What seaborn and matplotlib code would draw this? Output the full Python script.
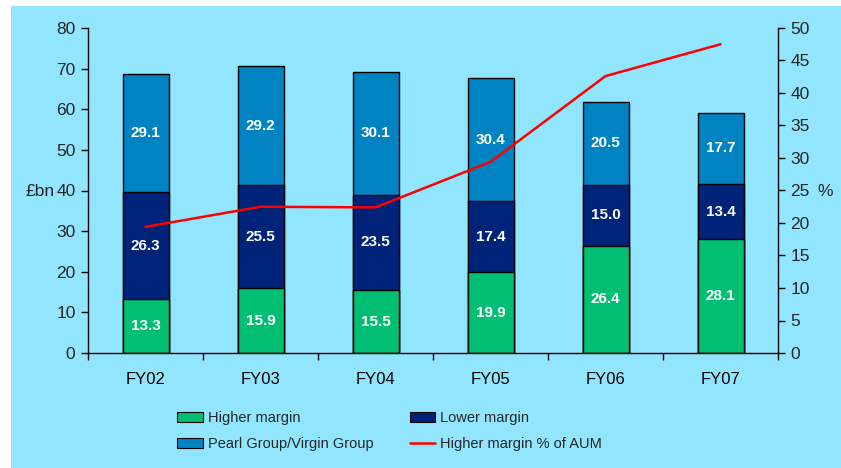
import numpy as np
import pandas as pd
import matplotlib
matplotlib.use("Agg")
import matplotlib.pyplot as plt
import matplotlib.patches as mpatches
import matplotlib.lines as mlines
import seaborn as sns

categories = ["FY02", "FY03", "FY04", "FY05", "FY06", "FY07"]
higher_margin = [13.3, 15.9, 15.5, 19.9, 26.4, 28.1]
lower_margin = [26.3, 25.5, 23.5, 17.4, 15.0, 13.4]
pearl_virgin = [29.1, 29.2, 30.1, 30.4, 20.5, 17.7]
higher_pct = [19.4, 22.5, 22.4, 29.4, 42.6, 47.5]

BG = "#91E5FF"
GREEN = "#00BF72"
NAVY = "#00237A"
BLUE = "#0083C2"
RED = "#FF0000"

sns.set_theme(style="white")
plt.rcParams["font.family"] = ["Liberation Sans", "DejaVu Sans"]

fig = plt.figure(figsize=(8.41, 4.68), dpi=100, facecolor="white")
fig.patches.append(mpatches.Rectangle((11/841, 0), 1, 1 - 6/468, transform=fig.transFigure,
                                      facecolor=BG, edgecolor="none", zorder=-10))
ax = fig.add_axes([88/841, 1 - 353/468, 690/841, 325/468])
ax.set_facecolor(BG)

df = pd.DataFrame({"cat": categories, "hm": higher_margin, "lm": lower_margin, "pv": pearl_virgin})
df["c2"] = df["hm"] + df["lm"]
df["c3"] = df["c2"] + df["pv"]

for col, color in [("c3", BLUE), ("c2", NAVY), ("hm", GREEN)]:
    sns.barplot(data=df, x="cat", y=col, color=color, width=0.4, edgecolor="black",
                linewidth=1.0, saturation=1, ax=ax, zorder=2)

for i in range(len(categories)):
    segs = [(0, df["hm"][i]), (df["hm"][i], df["c2"][i]), (df["c2"][i], df["c3"][i])]
    vals = [higher_margin[i], lower_margin[i], pearl_virgin[i]]
    for (b, t), v in zip(segs, vals):
        ax.text(i, (b + t) / 2, f"{v:.1f}", ha="center", va="center", color="white",
                fontsize=11, fontweight="bold", zorder=5)

ax.set_xlim(-0.5, len(categories) - 0.5)
ax.set_ylim(0, 80)
ax.set_yticks(range(0, 81, 10))
ax.set_xlabel("")
ax.set_ylabel("")
ax.set_xticks(range(len(categories)))
ax.set_xticklabels(categories)
ax.set_xticks(np.arange(-0.5, len(categories), 1), minor=True)
ax.tick_params(axis="x", which="major", length=0, pad=14, labelsize=12, colors="black")
ax.tick_params(axis="x", which="minor", length=5, width=1, color="black", direction="out", bottom=True)
ax.tick_params(axis="y", length=5, width=1, color="black", direction="out", left=True,
               labelsize=12.5, pad=4)
for s in ["top", "right"]:
    ax.spines[s].set_visible(False)
for s in ["left", "bottom"]:
    ax.spines[s].set_color("black")
    ax.spines[s].set_linewidth(1)

ax2 = ax.twinx()
sns.lineplot(x=np.arange(len(categories)), y=higher_pct, color=RED, linewidth=1.8, ax=ax2, zorder=4)
ax2.set_ylim(0, 50)
ax2.set_yticks(range(0, 51, 5))
ax2.tick_params(axis="y", length=5, width=1, color="black", direction="out", right=True,
                labelsize=12.5, pad=4)
for s in ["top", "left", "bottom"]:
    ax2.spines[s].set_visible(False)
ax2.spines["right"].set_color("black")
ax2.spines["right"].set_linewidth(1)
ax2.set_ylabel("")
ax.set_xlim(-0.5, len(categories) - 0.5)

fig.text(26/841, 1 - 191/468, "£bn", fontsize=12.5, ha="left", va="center")
fig.text(817/841, 1 - 191/468, "%", fontsize=12.5, ha="left", va="center")

handles = [
    mpatches.Patch(facecolor=GREEN, edgecolor="black", linewidth=0.8, label="Higher margin"),
    mpatches.Patch(facecolor=BLUE, edgecolor="black", linewidth=0.8, label="Pearl Group/Virgin Group"),
    mpatches.Patch(facecolor=NAVY, edgecolor="black", linewidth=0.8, label="Lower margin"),
    mlines.Line2D([], [], color=RED, linewidth=1.8, label="Higher margin % of AUM"),
]
fig.legend(handles=handles, ncol=2, loc="upper left", bbox_to_anchor=(177/841, 1 - 411/468),
           frameon=False, fontsize=10.5, handlelength=1.75, handleheight=0.65, handletextpad=0.35,
           columnspacing=2.5, labelspacing=0.85, borderaxespad=0, borderpad=0)

fig.savefig("out.png", dpi=100, facecolor=fig.get_facecolor())
